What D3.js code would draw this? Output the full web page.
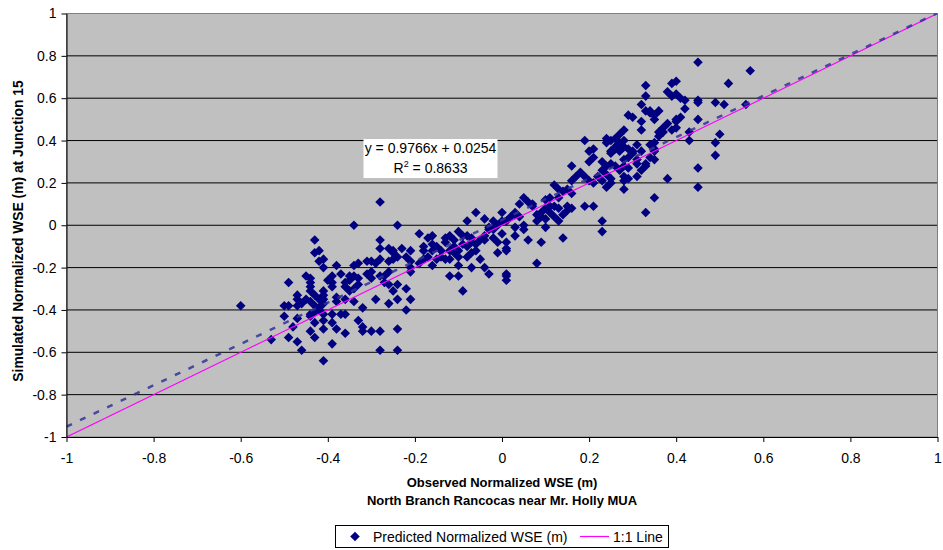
<!DOCTYPE html>
<html><head><meta charset="utf-8">
<script src="https://cdn.jsdelivr.net/npm/d3@7/dist/d3.min.js"></script>
<style>
body{margin:0;background:#fff}
svg{display:block}
text{font-family:Arial,"Liberation Sans",Helvetica,sans-serif}
</style>
</head><body>
<svg id="chart" width="943" height="550"></svg>
<script>
// ---------- data ----------
const axisTicks = [-1, -0.8, -0.6, -0.4, -0.2, 0, 0.2, 0.4, 0.6, 0.8, 1];
const tickLabels = ["-1", "-0.8", "-0.6", "-0.4", "-0.2", "0", "0.2", "0.4", "0.6", "0.8", "1"];
const trendSlope = 0.9766;
const trendIntercept = 0.0254;
const oneToOne = [[-1, -1], [1, 1]];

// observed (x), simulated (y) pairs
const lowCluster = [
[-0.28,0.11],[-0.34,0.00],[-0.24,0.00],[-0.43,-0.07],[-0.28,-0.07],[-0.43,-0.13],[-0.42,-0.12],[-0.28,-0.11],[-0.26,-0.11],[-0.25,-0.12],
[-0.23,-0.11],[-0.21,-0.12],[-0.42,-0.17],[-0.41,-0.16],[-0.41,-0.20],[-0.38,-0.19],[-0.34,-0.19],[-0.33,-0.18],[-0.31,-0.17],[-0.30,-0.17],
[-0.29,-0.18],[-0.28,-0.16],[-0.26,-0.17],[-0.25,-0.16],[-0.24,-0.15],[-0.25,-0.13],[-0.22,-0.15],[-0.21,-0.17],[-0.45,-0.24],[-0.44,-0.25],
[-0.44,-0.27],[-0.44,-0.29],[-0.44,-0.31],[-0.43,-0.33],[-0.49,-0.27],[-0.39,-0.24],[-0.40,-0.26],[-0.39,-0.27],[-0.39,-0.29],[-0.41,-0.31],
[-0.41,-0.33],[-0.42,-0.35],[-0.37,-0.23],[-0.35,-0.24],[-0.34,-0.24],[-0.33,-0.25],[-0.35,-0.26],[-0.36,-0.27],[-0.36,-0.29],[-0.35,-0.31],
[-0.34,-0.30],[-0.33,-0.28],[-0.31,-0.23],[-0.30,-0.22],[-0.30,-0.25],[-0.28,-0.24],[-0.27,-0.24],[-0.26,-0.22],[-0.27,-0.27],[-0.26,-0.28],
[-0.25,-0.31],[-0.24,-0.28],[-0.22,-0.30],[-0.21,-0.22],[-0.21,-0.20],[-0.47,-0.33],[-0.47,-0.35],[-0.46,-0.37],[-0.47,-0.38],[-0.50,-0.38],
[-0.49,-0.38],[-0.45,-0.35],[-0.44,-0.36],[-0.43,-0.38],[-0.42,-0.39],[-0.41,-0.37],[-0.41,-0.35],[-0.38,-0.36],[-0.38,-0.34],[-0.36,-0.35],
[-0.34,-0.36],[-0.32,-0.39],[-0.29,-0.35],[-0.26,-0.37],[-0.24,-0.35],[-0.21,-0.35],[-0.22,-0.40],[-0.50,-0.43],[-0.47,-0.44],[-0.48,-0.48],
[-0.49,-0.53],[-0.47,-0.55],[-0.46,-0.59],[-0.44,-0.42],[-0.44,-0.43],[-0.43,-0.41],[-0.42,-0.40],[-0.41,-0.42],[-0.43,-0.46],[-0.44,-0.50],
[-0.43,-0.53],[-0.41,-0.45],[-0.41,-0.49],[-0.39,-0.46],[-0.38,-0.49],[-0.36,-0.51],[-0.39,-0.56],[-0.39,-0.42],[-0.37,-0.42],[-0.36,-0.42],
[-0.33,-0.45],[-0.32,-0.48],[-0.32,-0.50],[-0.30,-0.50],[-0.28,-0.50],[-0.28,-0.59],[-0.24,-0.49],[-0.24,-0.59],[-0.53,-0.54],[-0.60,-0.38],
[-0.41,-0.64]
];
const midCluster = [
[0.16,0.28],[0.16,0.21],[0.17,0.23],[0.12,0.19],[0.13,0.17],[0.14,0.16],[0.15,0.17],[0.16,0.15],[0.13,0.13],[0.11,0.13],
[0.10,0.12],[0.11,0.09],[0.12,0.09],[0.13,0.08],[0.15,0.09],[0.15,0.07],[0.16,0.08],[0.10,0.08],[0.09,0.06],[0.08,0.05],
[0.09,0.04],[0.10,0.03],[0.11,0.06],[0.12,0.04],[0.14,0.05],[0.13,0.02],[0.10,-0.01],[0.08,0.02],[0.07,0.09],[0.07,0.10],
[0.06,0.11],[0.05,0.13],[0.04,0.10],[0.03,0.06],[0.03,0.05],[0.02,0.04],[0.04,0.04],[0.05,0.00],[0.05,-0.02],[0.06,-0.07],
[0.03,-0.05],[0.03,-0.01],[0.01,0.02],[0.00,0.06],[0.00,0.02],[-0.01,0.00],[-0.02,-0.02],[-0.02,0.02],[-0.03,-0.01],[-0.04,0.03],
[-0.06,0.06],[-0.08,0.02],[-0.03,-0.02],[-0.04,-0.05],[-0.02,-0.06],[0.00,-0.04],[-0.01,-0.08],[0.01,-0.08],[0.01,-0.11],[-0.01,-0.13],
[0.01,-0.12],[0.09,-0.08],[0.14,-0.06],[0.08,-0.18],[-0.19,-0.04],[-0.17,-0.06],[-0.16,-0.05],[-0.16,-0.09],[-0.16,-0.12],[-0.18,-0.12],
[-0.18,-0.10],[-0.15,-0.10],[-0.14,-0.12],[-0.13,-0.08],[-0.13,-0.06],[-0.12,-0.05],[-0.11,-0.07],[-0.10,-0.03],[-0.09,-0.05],[-0.08,-0.05],
[-0.07,-0.08],[-0.07,-0.06],[-0.06,-0.09],[-0.05,-0.07],[-0.04,-0.07],[-0.06,-0.12],[-0.07,-0.13],[-0.08,-0.10],[-0.09,-0.09],[-0.10,-0.12],
[-0.11,-0.10],[-0.12,-0.12],[-0.11,-0.13],[-0.10,-0.15],[-0.12,-0.16],[-0.14,-0.15],[-0.15,-0.16],[-0.16,-0.19],[-0.13,-0.16],[-0.18,-0.16],
[-0.17,-0.15],[-0.19,-0.18],[-0.10,-0.19],[-0.07,-0.20],[-0.05,-0.16],[-0.04,-0.20],[-0.03,-0.23],[-0.12,-0.24],[-0.10,-0.24],[-0.09,-0.31],
[0.01,-0.24],[0.01,-0.23],[0.01,-0.26],[-0.08,-0.15]
];
const highCluster = [
[0.45,0.77],[0.57,0.73],[0.52,0.67],[0.40,0.68],[0.39,0.67],[0.33,0.66],[0.33,0.61],[0.38,0.63],[0.39,0.61],[0.40,0.62],
[0.41,0.60],[0.42,0.59],[0.45,0.59],[0.45,0.58],[0.49,0.58],[0.51,0.57],[0.56,0.57],[0.32,0.57],[0.33,0.54],[0.34,0.54],
[0.34,0.53],[0.29,0.52],[0.30,0.51],[0.36,0.54],[0.35,0.50],[0.35,0.52],[0.32,0.49],[0.32,0.45],[0.42,0.55],[0.41,0.51],
[0.40,0.50],[0.40,0.49],[0.38,0.48],[0.37,0.46],[0.37,0.44],[0.39,0.45],[0.40,0.46],[0.45,0.50],[0.43,0.44],[0.43,0.40],
[0.50,0.43],[0.49,0.39],[0.49,0.33],[0.45,0.27],[0.45,0.18],[0.38,0.22],[0.35,0.13],[0.33,0.06],[0.28,0.45],[0.27,0.43],
[0.26,0.41],[0.28,0.40],[0.27,0.39],[0.26,0.37],[0.25,0.40],[0.24,0.41],[0.24,0.39],[0.25,0.35],[0.25,0.34],[0.26,0.36],
[0.27,0.35],[0.28,0.37],[0.29,0.36],[0.30,0.35],[0.31,0.38],[0.30,0.34],[0.29,0.32],[0.28,0.31],[0.28,0.28],[0.29,0.27],
[0.31,0.29],[0.31,0.31],[0.32,0.35],[0.33,0.28],[0.32,0.26],[0.31,0.23],[0.29,0.22],[0.28,0.23],[0.28,0.21],[0.28,0.17],
[0.27,0.26],[0.26,0.28],[0.25,0.29],[0.24,0.28],[0.23,0.30],[0.23,0.26],[0.24,0.24],[0.25,0.22],[0.25,0.20],[0.24,0.18],
[0.23,0.21],[0.22,0.23],[0.21,0.20],[0.36,0.44],[0.36,0.42],[0.35,0.39],[0.35,0.36],[0.35,0.35],[0.34,0.32],[0.35,0.31],
[0.33,0.29],[0.34,0.38],[0.21,0.36],[0.20,0.35],[0.21,0.32],[0.20,0.30],[0.19,0.40],[0.18,0.25],[0.19,0.23],[0.20,0.21],
[0.23,0.02],[0.21,0.09],[0.19,0.09],[0.23,-0.03]
];

const seriesName = "Predicted Normalized WSE (m)";
const lineName = "1:1 Line";
const xTitle1 = "Observed Normalized WSE (m)";
const xTitle2 = "North Branch Rancocas near Mr. Holly MUA";
const yTitle = "Simulated Normalized WSE (m) at Junction 15";

// ---------- drawing ----------
const svg = d3.select("#chart");
const plot = {left: 66.5, right: 937.5, top: 13.5, bottom: 437};
const x = d3.scaleLinear().domain([-1, 1]).range([plot.left, plot.right]);
const y = d3.scaleLinear().domain([-1, 1]).range([plot.bottom, plot.top]);

svg.append("rect").attr("width", 943).attr("height", 550).attr("fill", "#fff");

svg.append("rect")
  .attr("x", plot.left).attr("y", plot.top)
  .attr("width", plot.right - plot.left).attr("height", plot.bottom - plot.top)
  .attr("fill", "#c0c0c0");

svg.append("defs").append("clipPath").attr("id", "clip")
  .append("rect").attr("x", plot.left).attr("y", plot.top)
  .attr("width", plot.right - plot.left).attr("height", plot.bottom - plot.top);

// gridlines
svg.append("g").selectAll("line")
  .data(axisTicks.filter(d => d > -1 && d < 1))
  .join("line")
  .attr("x1", plot.left).attr("x2", plot.right)
  .attr("y1", d => y(d)).attr("y2", d => y(d))
  .attr("stroke", "#000").attr("stroke-width", 1);

// border
svg.append("rect")
  .attr("x", plot.left).attr("y", plot.top)
  .attr("width", plot.right - plot.left).attr("height", plot.bottom - plot.top)
  .attr("fill", "none").attr("stroke", "#808080").attr("stroke-width", 1);

// points
const allPoints = lowCluster.concat(midCluster, highCluster);
const diamond = d3.symbol().type(d3.symbolSquare).size(46);
const gPts = svg.append("g").attr("clip-path", "url(#clip)");
gPts.selectAll("path")
  .data(allPoints)
  .join("path")
  .attr("d", diamond)
  .attr("transform", d => `translate(${x(d[0])},${y(d[1])}) rotate(45)`)
  .attr("fill", "#000080");

// 1:1 line
const lineGen = d3.line().x(d => x(d[0])).y(d => y(d[1]));
svg.append("path").datum(oneToOne)
  .attr("d", lineGen).attr("clip-path", "url(#clip)")
  .attr("fill", "none").attr("stroke", "#ff00ff").attr("stroke-width", 1.2);

// trend line
const trendPts = [-1, 1].map(v => [v, trendSlope * v + trendIntercept]);
svg.append("path").datum(trendPts)
  .attr("d", lineGen).attr("clip-path", "url(#clip)")
  .attr("fill", "none").attr("stroke", "#333399").attr("stroke-opacity", 0.85)
  .attr("stroke-width", 2.5).attr("stroke-dasharray", "6,9");

// axes
const fmt = d => tickLabels[axisTicks.indexOf(d)];
const yAxis = svg.append("g").attr("transform", `translate(${plot.left},0)`)
  .call(d3.axisLeft(y).tickValues(axisTicks).tickFormat(fmt).tickSizeInner(5).tickSizeOuter(0).tickPadding(5));
const xAxis = svg.append("g").attr("transform", `translate(0,${plot.bottom})`)
  .call(d3.axisBottom(x).tickValues(axisTicks).tickFormat(fmt).tickSizeInner(5).tickSizeOuter(0).tickPadding(11));
[xAxis, yAxis].forEach(g => {
  g.selectAll("text").attr("font-size", 14).attr("fill", "#000").attr("font-family", "Arial, 'Liberation Sans', sans-serif");
  g.selectAll("line").attr("stroke", "#000");
  g.select(".domain").attr("stroke", "#000");
});

// axis titles
svg.append("text").attr("x", (plot.left + plot.right) / 2).attr("y", 487)
  .attr("text-anchor", "middle").attr("font-weight", "bold").attr("font-size", 13).text(xTitle1);
svg.append("text").attr("x", (plot.left + plot.right) / 2).attr("y", 505)
  .attr("text-anchor", "middle").attr("font-weight", "bold").attr("font-size", 13).text(xTitle2);
svg.append("text").attr("transform", `translate(22.5,231) rotate(-90)`)
  .attr("text-anchor", "middle").attr("font-weight", "bold").attr("font-size", 13.8).text(yTitle);

// equation label
const eq = svg.append("g");
eq.append("rect").attr("x", 363.5).attr("y", 139).attr("width", 134).attr("height", 39).attr("fill", "#fff");
eq.append("text").attr("x", 430.5).attr("y", 153).attr("text-anchor", "middle").attr("font-size", 14)
  .text(`y = ${trendSlope}x + ${trendIntercept}`);
const r2 = eq.append("text").attr("x", 430.5).attr("y", 173).attr("text-anchor", "middle").attr("font-size", 14);
r2.append("tspan").text("R");
r2.append("tspan").attr("dy", -6).attr("font-size", 9).text("2");
r2.append("tspan").attr("dy", 6).text(" = 0.8633");

// legend
const lg = svg.append("g");
lg.append("rect").attr("x", 335.5).attr("y", 525.5).attr("width", 333).attr("height", 22)
  .attr("fill", "#fff").attr("stroke", "#000").attr("stroke-width", 1);
lg.append("path").attr("d", diamond).attr("transform", "translate(355,536.5) rotate(45)").attr("fill", "#000080");
lg.append("text").attr("x", 373).attr("y", 541.5).attr("font-size", 14).text(seriesName);
lg.append("line").attr("x1", 580).attr("x2", 609).attr("y1", 536.5).attr("y2", 536.5)
  .attr("stroke", "#ff00ff").attr("stroke-width", 1.2);
lg.append("text").attr("x", 613).attr("y", 541.5).attr("font-size", 14).text(lineName);
</script>
</body></html>
